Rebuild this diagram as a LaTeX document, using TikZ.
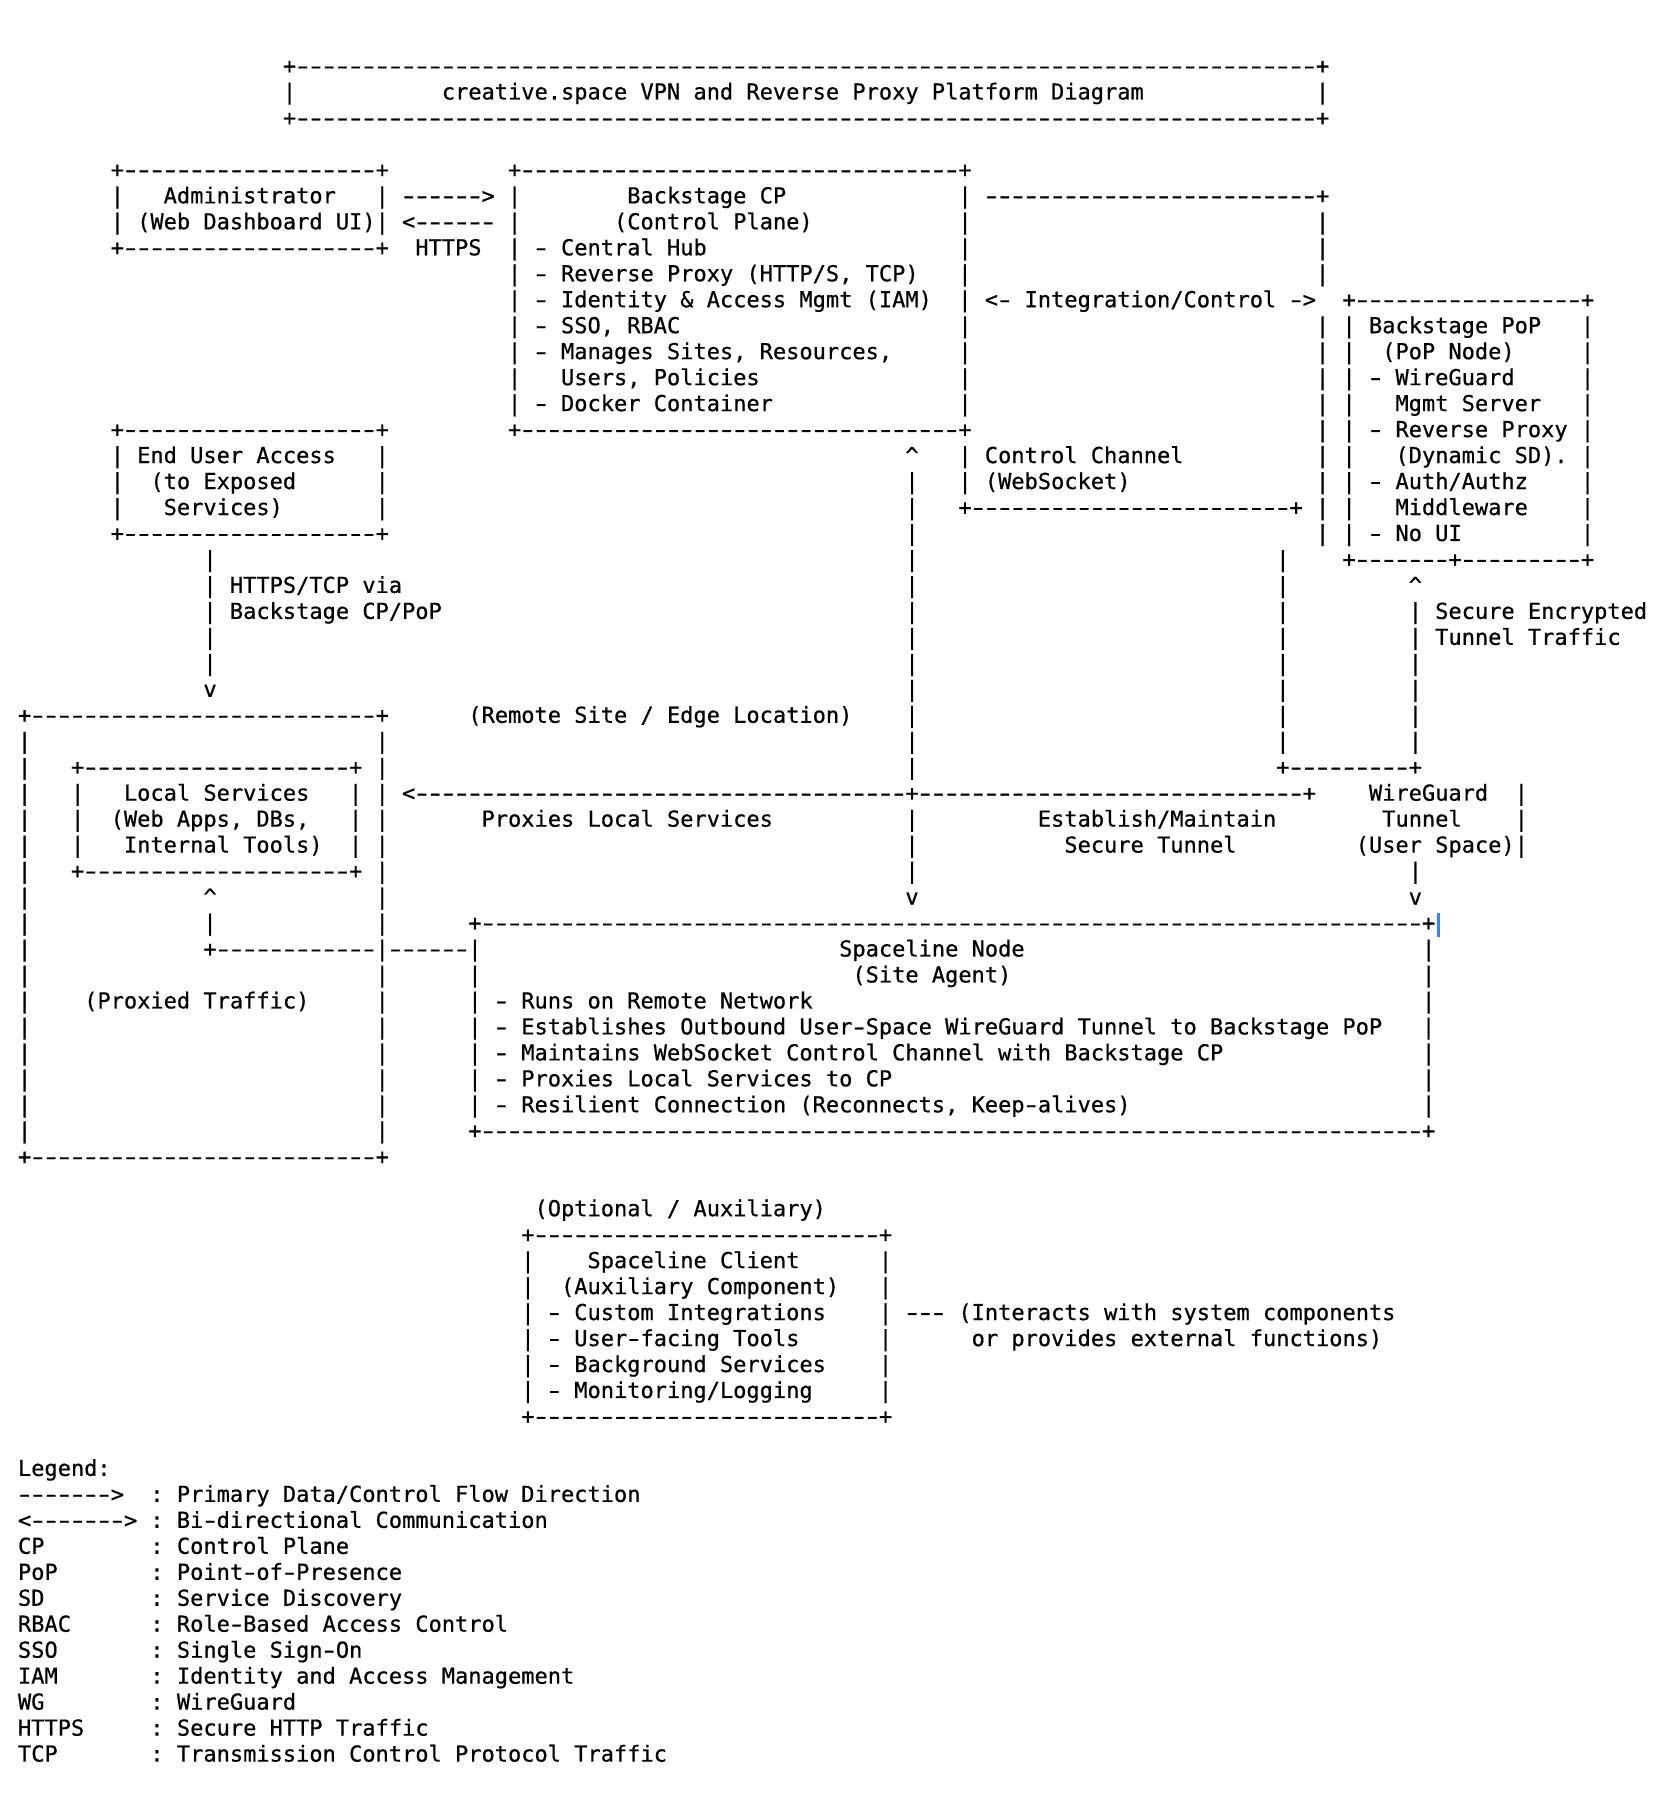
\documentclass[tikz,border=0pt]{standalone}
\usepackage{graphicx}
\usepackage{fontspec}
\setmonofont{DejaVu Sans Mono}[FakeBold=0.6]
\newcommand\colgap[1]{\hskip#1\fontcharwd\font`\M\relax}
\newcommand\hy{\makebox[\fontcharwd\font`\M][c]{\scalebox{1.5}[1]{\char`\-}}}
{\catcode`\-=\active \gdef-{\hy}}
\newcommand\dashrun[1]{\foreach \k in {1,...,#1}{\hy}}
\definecolor{cursorblue}{RGB}{59,130,246}
\tikzset{ascii/.style={anchor=base west, inner sep=0pt, outer sep=0pt,
  font={\ttfamily\fontsize{11}{13}\selectfont\frenchspacing\catcode`\-=\active}}}
\begin{document}
\begin{tikzpicture}[x=6.6226pt, y=-12.985pt]
    \useasboundingbox (-9pt,36.75pt) rectangle (831pt,-866.25pt);

    \node[ascii] (titletop) at (20,0) {+\dashrun{77}+};
    \node[ascii] (title) at (20,1) {|\colgap{11}creative.space VPN and Reverse Proxy Platform Diagram\colgap{13}|};
    \node[ascii] (titlebot) at (20,2) {+\dashrun{77}+};

    \node[ascii] (admintop) at (7,4) {+\dashrun{19}+\colgap{9}+\dashrun{33}+};
    \node[ascii] (admin) at (7,5) {|\colgap{3}Administrator\colgap{3}| \dashrun{6}> |\colgap{8}Backstage CP\colgap{13}| \dashrun{25}+};
    \node[ascii] (dashboard) at (7,6) {| (Web Dashboard UI)| <\dashrun{6} |\colgap{7}(Control Plane)\colgap{11}|\colgap{26}|};
    \node[ascii] (https) at (7,7) {+\dashrun{19}+\colgap{2}HTTPS\colgap{2}| - Central Hub\colgap{19}|\colgap{26}|};
    \node[ascii] (proxy) at (37,8) {| - Reverse Proxy (HTTP/S, TCP)\colgap{3}|\colgap{26}|};
    \node[ascii] (iam) at (37,9) {| - Identity \& Access Mgmt (IAM)\colgap{2}| <- Integration/Control ->\colgap{2}+\dashrun{17}+};
    \node[ascii] (sso) at (37,10) {| - SSO, RBAC\colgap{21}|\colgap{26}| | Backstage PoP\colgap{3}|};
    \node[ascii] (sites) at (37,11) {| - Manages Sites, Resources,\colgap{5}|\colgap{26}| |\colgap{2}(PoP Node)\colgap{5}|};
    \node[ascii] (users) at (37,12) {|\colgap{3}Users, Policies\colgap{15}|\colgap{26}| | - WireGuard\colgap{5}|};
    \node[ascii] (docker) at (37,13) {| - Docker Container\colgap{14}|\colgap{26}| |\colgap{3}Mgmt Server\colgap{3}|};

    \node[ascii] (endusertop) at (7,14) {+\dashrun{19}+\colgap{9}+\dashrun{33}+\colgap{26}| | - Reverse Proxy |};
    \node[ascii] (enduser) at (7,15) {| End User Access\colgap{3}|\colgap{39}\textasciicircum\colgap{3}| Control Channel\colgap{10}| |\colgap{3}(Dynamic SD). |};
    \node[ascii] (exposed) at (7,16) {|\colgap{2}(to Exposed\colgap{6}|\colgap{39}|\colgap{3}| (WebSocket)\colgap{14}| | - Auth/Authz\colgap{4}|};
    \node[ascii] (services) at (7,17) {|\colgap{3}Services)\colgap{7}|\colgap{39}|\colgap{3}+\dashrun{24}+ | |\colgap{3}Middleware\colgap{4}|};
    \node[ascii] (enduserbot) at (7,18) {+\dashrun{19}+\colgap{39}|\colgap{30}| | - No UI\colgap{9}|};

    \node[ascii] (popbot) at (14,19) {|\colgap{52}|\colgap{27}|\colgap{4}+\dashrun{7}+\dashrun{9}+};
    \node[ascii] (via) at (14,20) {| HTTPS/TCP via\colgap{38}|\colgap{27}|\colgap{9}\textasciicircum};
    \node[ascii] (cppop) at (14,21) {| Backstage CP/PoP\colgap{35}|\colgap{27}|\colgap{9}| Secure Encrypted};
    \node[ascii] (tunneltraffic) at (14,22) {|\colgap{52}|\colgap{27}|\colgap{9}| Tunnel Traffic};
    \node[ascii] (downlines) at (14,23) {|\colgap{52}|\colgap{27}|\colgap{9}|};
    \node[ascii] (downarrow) at (14,24) {v\colgap{52}|\colgap{27}|\colgap{9}|};

    \node[ascii] (remotetop) at (0,25) {+\dashrun{26}+\colgap{6}(Remote Site / Edge Location)\colgap{4}|\colgap{27}|\colgap{9}|};
    \node[ascii] (remoteside) at (0,26) {|\colgap{26}|\colgap{39}|\colgap{27}|\colgap{9}|};
    \node[ascii] (localtop) at (0,27) {|\colgap{3}+\dashrun{20}+ |\colgap{39}|\colgap{27}+\dashrun{9}+};
    \node[ascii] (local) at (0,28) {|\colgap{3}|\colgap{3}Local Services\colgap{3}| | <\dashrun{37}+\dashrun{29}+\colgap{4}WireGuard\colgap{2}|};
    \node[ascii] (webapps) at (0,29) {|\colgap{3}|\colgap{2}(Web Apps, DBs,\colgap{3}| |\colgap{7}Proxies Local Services\colgap{10}|\colgap{9}Establish/Maintain\colgap{8}Tunnel\colgap{4}|};
    \node[ascii] (tools) at (0,30) {|\colgap{3}|\colgap{3}Internal Tools)\colgap{2}| |\colgap{39}|\colgap{11}Secure Tunnel\colgap{9}(User Space)|};
    \node[ascii] (localbot) at (0,31) {|\colgap{3}+\dashrun{20}+ |\colgap{39}|\colgap{37}|};
    \node[ascii] (arrows) at (0,32) {|\colgap{13}\textasciicircum\colgap{12}|\colgap{39}v\colgap{37}v};

    \node[ascii] (nodetop) at (0,33) {|\colgap{13}|\colgap{12}|\colgap{6}+\dashrun{71}+};
    \node[ascii] (spaceline) at (0,34) {|\colgap{13}+\dashrun{12}|\dashrun{6}|\colgap{27}Spaceline Node\colgap{30}|};
    \node[ascii] (agent) at (0,35) {|\colgap{26}|\colgap{6}|\colgap{28}(Site Agent)\colgap{31}|};
    \node[ascii] (runs) at (0,36) {|\colgap{4}(Proxied Traffic)\colgap{5}|\colgap{6}| - Runs on Remote Network\colgap{46}|};
    \node[ascii] (establishes) at (0,37) {|\colgap{26}|\colgap{6}| - Establishes Outbound User-Space WireGuard Tunnel to Backstage PoP\colgap{3}|};
    \node[ascii] (maintains) at (0,38) {|\colgap{26}|\colgap{6}| - Maintains WebSocket Control Channel with Backstage CP\colgap{15}|};
    \node[ascii] (proxies) at (0,39) {|\colgap{26}|\colgap{6}| - Proxies Local Services to CP\colgap{40}|};
    \node[ascii] (resilient) at (0,40) {|\colgap{26}|\colgap{6}| - Resilient Connection (Reconnects, Keep-alives)\colgap{22}|};
    \node[ascii] (nodebot) at (0,41) {|\colgap{26}|\colgap{6}+\dashrun{71}+};
    \node[ascii] (remotebot) at (0,42) {+\dashrun{26}+};

    \fill[cursorblue] (709.6pt,-419.9pt) rectangle (711.2pt,-431.9pt);

    \node[ascii] (optional) at (39,44) {(Optional / Auxiliary)};
    \node[ascii] (clienttop) at (38,45) {+\dashrun{26}+};
    \node[ascii] (client) at (38,46) {|\colgap{4}Spaceline Client\colgap{6}|};
    \node[ascii] (auxiliary) at (38,47) {|\colgap{2}(Auxiliary Component)\colgap{3}|};
    \node[ascii] (custom) at (38,48) {| - Custom Integrations\colgap{4}| \dashrun{3} (Interacts with system components};
    \node[ascii] (userfacing) at (38,49) {| - User-facing Tools\colgap{6}|\colgap{6}or provides external functions)};
    \node[ascii] (background) at (38,50) {| - Background Services\colgap{4}|};
    \node[ascii] (monitoring) at (38,51) {| - Monitoring/Logging\colgap{5}|};
    \node[ascii] (clientbot) at (38,52) {+\dashrun{26}+};

    \node[ascii] (legend) at (0,54) {Legend:};
    \node[ascii] (legflow) at (0,55) {\dashrun{7}>\colgap{2}: Primary Data/Control Flow Direction};
    \node[ascii] (legbidir) at (0,56) {<\dashrun{7}> : Bi-directional Communication};
    \node[ascii] (legcp) at (0,57) {CP\colgap{8}: Control Plane};
    \node[ascii] (legpop) at (0,58) {PoP\colgap{7}: Point-of-Presence};
    \node[ascii] (legsd) at (0,59) {SD\colgap{8}: Service Discovery};
    \node[ascii] (legrbac) at (0,60) {RBAC\colgap{6}: Role-Based Access Control};
    \node[ascii] (legsso) at (0,61) {SSO\colgap{7}: Single Sign-On};
    \node[ascii] (legiam) at (0,62) {IAM\colgap{7}: Identity and Access Management};
    \node[ascii] (legwg) at (0,63) {WG\colgap{8}: WireGuard};
    \node[ascii] (leghttps) at (0,64) {HTTPS\colgap{5}: Secure HTTP Traffic};
    \node[ascii] (legtcp) at (0,65) {TCP\colgap{7}: Transmission Control Protocol Traffic};
\end{tikzpicture}
\end{document}
